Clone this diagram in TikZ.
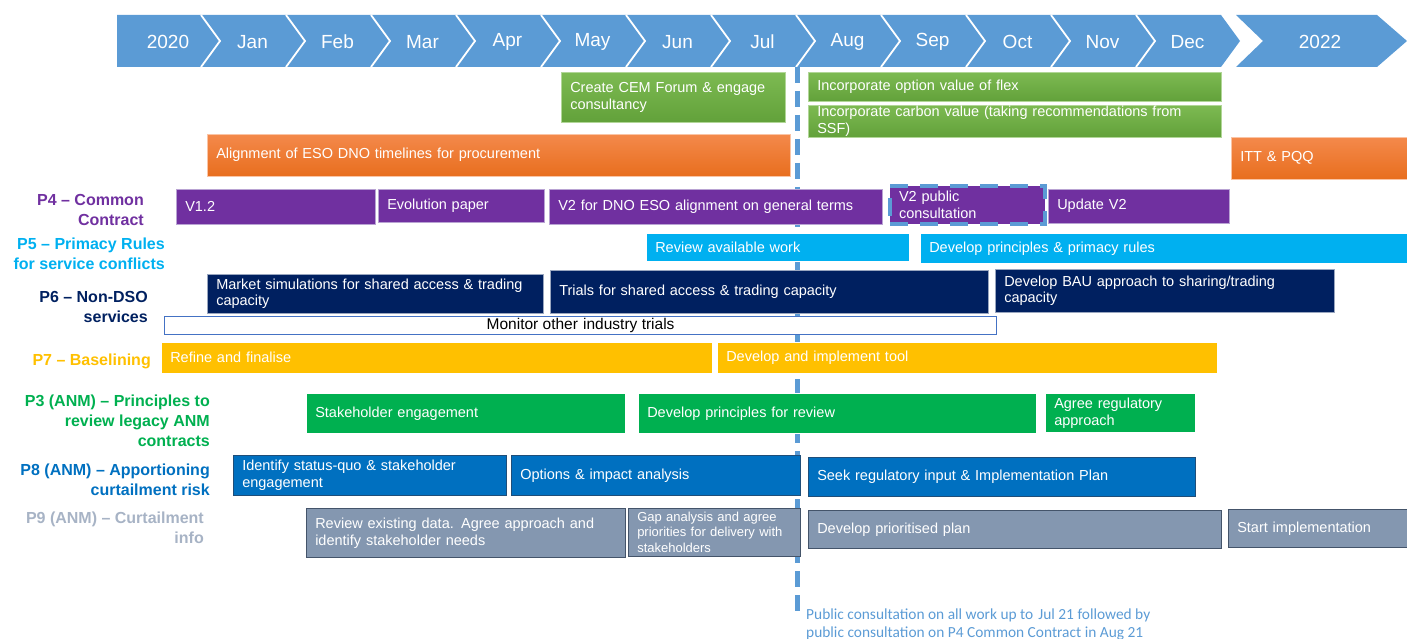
\documentclass[tikz,border=0pt]{standalone}
\usepackage{fontspec}
\setmainfont{Liberation Sans}
\newfontfamily\notefont{Carlito}
\usetikzlibrary{positioning}

\definecolor{chev}{HTML}{5B9BD5}
\definecolor{pfour}{HTML}{7030A0}
\definecolor{pfourline}{HTML}{B9A3D3}
\definecolor{pfive}{HTML}{00B0F0}
\definecolor{psix}{HTML}{002060}
\definecolor{pseven}{HTML}{FFC000}
\definecolor{pthree}{HTML}{00B050}
\definecolor{peight}{HTML}{0070C0}
\definecolor{peightline}{HTML}{1F4E79}
\definecolor{pnine}{HTML}{8497B0}
\definecolor{pnineline}{HTML}{44546A}
\definecolor{pninetext}{HTML}{A7B3C5}
\definecolor{greentop}{HTML}{7DBA52}
\definecolor{greenbot}{HTML}{62A13A}
\definecolor{orangetop}{HTML}{F4894B}
\definecolor{orangebot}{HTML}{E86E1E}
\definecolor{monline}{HTML}{4472C4}

\begin{document}
\begin{tikzpicture}[x=1pt, y=-1pt,
    task/.style={anchor=north west, inner xsep=9pt, inner ysep=0pt, align=left, text=white,
      font=\fontsize{14.5}{17}\selectfont, line width=0.5pt},
    purplebox/.style={task, fill=pfour, draw=pfourline},
    cyanbox/.style={task, fill=pfive, draw=white},
    navybox/.style={task, fill=psix, draw=white!60!psix},
    yellowbox/.style={task, fill=pseven, draw=white},
    greenbox/.style={task, fill=pthree, draw=white},
    bluebox/.style={task, fill=peight, draw=peightline},
    greybox/.style={task, fill=pnine, draw=pnineline},
    limebox/.style={task, top color=greentop, bottom color=greenbot, draw=greentop!60!white},
    orangebox/.style={task, top color=orangetop, bottom color=orangebot, draw=orangetop!50!white},
    lab/.style={anchor=east, align=right, inner sep=0pt, font=\bfseries\fontsize{16}{20}\selectfont},
    month/.style={text=white, inner sep=0pt, font=\fontsize{19}{22}\selectfont},
    vline/.style={draw=chev, line width=5pt, dash pattern=on 16pt off 8pt}]
\useasboundingbox (0,0) rectangle (1407,639);

% timeline
\fill[chev] (117,15) -- (201,15) -- (220,41) -- (201,67) -- (117,67) -- cycle;
\node[month] (m2020) at (168,42) {2020};
\foreach \m [count=\i] in {Jan,Feb,Mar,Apr,May,Jun,Jul,Aug,Sep,Oct,Nov,Dec} {
  \pgfmathsetmacro{\xa}{116+85*\i}
  \pgfmathsetmacro{\xb}{201+85*\i}
  \fill[chev] (\xa,15) -- (\xb,15) -- ++(19,26) -- (\xb,67) -- (\xa,67) -- ++(19,-26) -- cycle;
  \draw[white, line width=1.8pt] (\xa,15) -- ++(19,26) -- (\xa,67);
  \node[month] (m\m) at ({(\xa+\xb)/2+9},42) {\m};
}
\fill[chev] (1236,15) -- (1377,15) -- (1407,41) -- (1377,67) -- (1236,67) -- (1263,41) -- cycle;
\node[month] (m2022) at (1320,42) {2022};

% public consultation marker
\coordinate (vtop) at (797,67);
\coordinate (vbot) at (797,615);
\draw[vline] (vtop) -- (vbot);

% procurement
\node[limebox, text width=206pt, minimum height=50pt] (cem) at (561,72) {Create CEM Forum \& engage\\consultancy};
\node[limebox, text width=395pt, minimum height=29pt] (optflex) at (808,72) {Incorporate option value of flex};
\node[limebox, text width=395pt, minimum height=32pt] (carbon) at (808,105) {Incorporate carbon value (taking recommendations from\\SSF)};
\node[orangebox, text width=565pt, minimum height=42pt] (eso) at (207,134) {Alignment\,\,of ESO DNO timelines for procurement};
\node[orangebox, text width=158pt, minimum height=42pt] (itt) at (1231,137) {ITT \& PQQ};

% P4
\node[lab, text=pfour] (lfour) at (144,209.5) {P4 – Common\\Contract};
\node[purplebox, text width=181pt, minimum height=35pt] (v12) at (176,189) {V1.2};
\node[purplebox, text width=148pt, minimum height=33pt] (evol) at (378,189) {Evolution paper};
\node[purplebox, text width=315pt, minimum height=35pt] (v2dno) at (549,189) {V2 for DNO ESO alignment\,\,on general terms};
\node[purplebox, text width=137pt, minimum height=38pt, draw=chev, line width=4pt, dash pattern=on 18pt off 12pt] (v2pub) at (888,184) {V2 public\\consultation};
\node[purplebox, text width=163pt, minimum height=34pt] (updv2) at (1048,189) {Update V2};

% P5
\node[lab, text=pfive] (lfive) at (165,254) {P5 – Primacy Rules\\for service conflicts};
\node[cyanbox, text width=245pt, minimum height=28pt] (revwork) at (646,233) {Review available work};
\node[cyanbox, text width=469pt, minimum height=30pt] (primacy) at (920,233) {Develop principles \& primacy rules};

% P6
\node[lab, text=psix] (lsix) at (148,307) {P6 – Non-DSO\\services};
\node[navybox, text width=318pt, minimum height=39pt] (marksim) at (207,274) {Market simulations for shared access \& trading\\capacity};
\node[navybox, text width=420pt, minimum height=43pt] (trials) at (550,270) {Trials for shared access \& trading capacity};
\node[navybox, text width=321pt, minimum height=43pt] (bau) at (995,269) {Develop BAU\,\,approach to sharing/trading\\capacity};
\node[anchor=north west, draw=monline, fill=white, line width=1.2pt, inner sep=0pt, minimum width=832pt, minimum height=18pt,
  font=\fontsize{15.5}{17}\selectfont] (monitor) at (164,316) {Monitor other\,\,industry trials};

% P7
\node[lab, text=pseven] (lseven) at (151,361) {P7 – Baselining};
\node[yellowbox, text width=533pt, minimum height=31pt] (refine) at (161,342) {Refine and finalise};
\node[yellowbox, text width=482pt, minimum height=31pt] (tool) at (717,342) {Develop and implement tool};

% P3
\node[lab, text=pthree] (lthree) at (210,420.5) {P3 (ANM) – Principles to\\review legacy ANM\\contracts};
\node[greenbox, text width=301pt, minimum height=40pt] (stake) at (306,393) {Stakeholder engagement};
\node[greenbox, text width=380pt, minimum height=40pt] (princ) at (638,393) {Develop principles for review};
\node[greenbox, text width=132pt, minimum height=39pt] (agree) at (1045,393) {Agree regulatory\\approach};

% P8
\node[lab, text=peight] (leight) at (210,480) {P8 (ANM) – Apportioning\\curtailment risk};
\node[bluebox, text width=255pt, minimum height=40pt] (status) at (233,455) {Identify status-quo \& stakeholder\\engagement};
\node[bluebox, text width=271pt, minimum height=40pt] (options) at (511,455) {Options \& impact analysis};
\node[bluebox, text width=369pt, minimum height=39pt] (seek) at (808,457) {Seek regulatory input \& Implementation\,\,Plan};

% P9
\node[lab, text=pninetext] (lnine) at (204,528) {P9 (ANM) – Curtailment\\info};
\node[greybox, text width=301pt, minimum height=49pt] (review) at (306,508) {Review existing data. Agree approach and\\identify stakeholder needs};
\node[greybox, text width=154pt, minimum height=48pt, font=\fontsize{13}{15.5}\selectfont] (gap) at (628,508) {Gap analysis and agree\\priorities for delivery with\\stakeholders};
\node[greybox, text width=395pt, minimum height=38pt] (prioplan) at (808,510) {Develop prioritised plan};
\node[greybox, text width=161pt, minimum height=38pt] (startimp) at (1228,509) {Start implementation};

\node[anchor=north west, inner sep=0pt, align=left, text=chev, font=\notefont\fontsize{15.4}{18}\selectfont] (note) at (806,609)
  {Public consultation on all work up to\,\,Jul 21 followed by\\public consultation on P4 Common Contract in Aug 21};
\end{tikzpicture}
\end{document}
